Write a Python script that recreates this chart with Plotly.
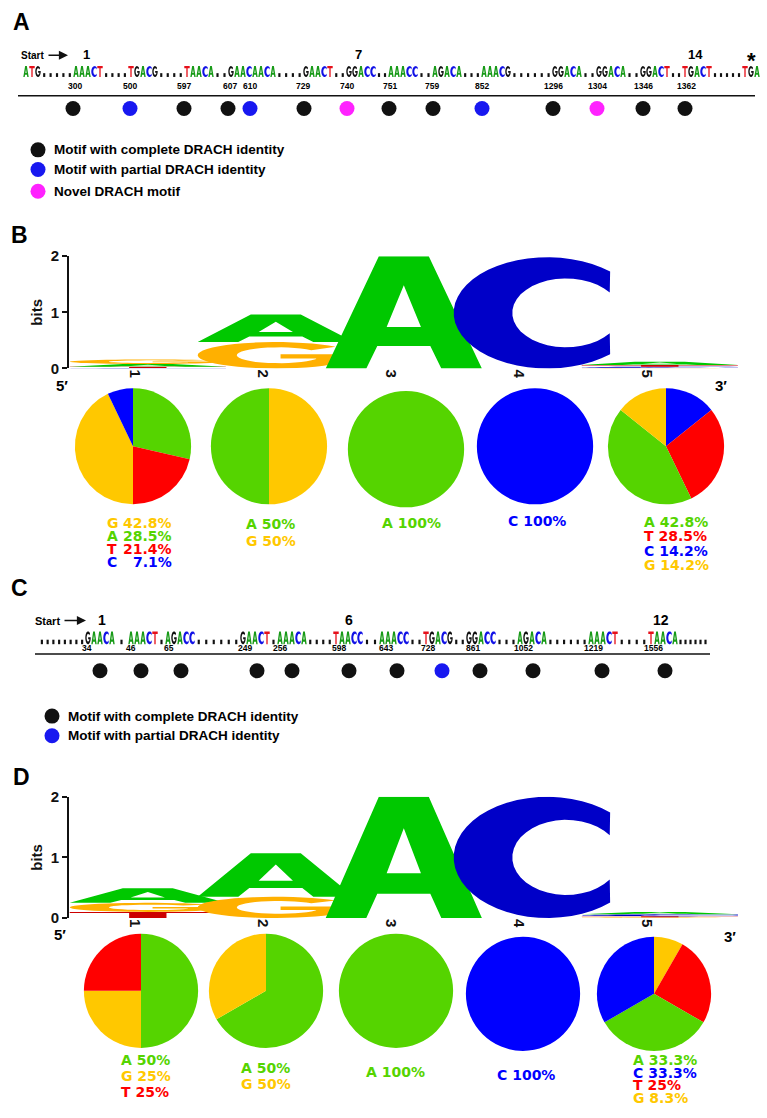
import numpy as np
import plotly.graph_objects as go

W, H = 767, 1118
FONT = "Liberation Sans, Arial, Helvetica, sans-serif"
LABEL_FONT = "DejaVu Sans, Verdana, sans-serif"

# ======================= DATA =======================
# Panel A - DRACH motifs along the transcript (start codon .. stop codon)
motifs_a = ["ATG", "AAACT", "TGACG", "TAACA", "GAACAACA", "GAACT", "GGACC", "AAACC",
            "AGACA", "AAACG", "GGACA", "GGACA", "GGACT", "TGACT", "TGA"]
dots_between_a = [5, 4, 4, 2, 4, 2, 2, 2, 3, 6, 2, 2, 2, 5]
sites_a = ["300", "500", "597", "607", "610", "729", "740", "751", "759", "852",
           "1296", "1304", "1346", "1362"]
class_a = ["complete", "partial", "complete", "complete", "partial", "complete", "novel",
           "complete", "complete", "partial", "complete", "novel", "complete", "complete"]
milestones_a = ["1", "7", "14"]

# Panel C
motifs_c = ["GAACA", "AAACT", "AGACC", "GAACT", "AAACA", "TAACC", "AAACC", "TGACG",
            "GGACC", "AGACA", "AAACT", "TAACA"]
dots_lead_c, dots_trail_c = 8, 6
dots_between_c = [1, 1, 6, 1, 4, 2, 2, 2, 3, 6, 4]
sites_c = ["34", "46", "65", "249", "256", "598", "643", "728", "861", "1052", "1219", "1556"]
class_c = ["complete"] * 7 + ["partial"] + ["complete"] * 4
milestones_c = ["1", "6", "12"]

class_text = {"complete": "Motif with complete DRACH identity",
              "partial": "Motif with partial DRACH identity",
              "novel": "Novel DRACH motif"}
legend_a = ["complete", "partial", "novel"]
legend_c = ["complete", "partial"]

# Sequence logos (bits per letter, stacked bottom -> top)
logo_positions = [1, 2, 3, 4, 5]
logo_b_letters = [["C", "T", "A", "G"], ["G", "A"], ["A"], ["C"], ["G", "C", "T", "A"]]
logo_b_bits = [[0.01, 0.02, 0.05, 0.08], [0.47, 0.49], [2.0], [1.98], [0.01, 0.02, 0.03, 0.06]]
logo_d_letters = [["T", "G", "A"], ["G", "A"], ["A"], ["C"], ["G", "T", "C", "A"]]
logo_d_bits = [[0.10, 0.15, 0.24], [0.35, 0.72], [2.0], [2.0], [0.01, 0.02, 0.03, 0.04]]

# Pie charts (slices clockwise from 12 o'clock)
pie_b_letters = [["A", "T", "G", "C"], ["G", "A"], ["A"], ["C"], ["C", "T", "A", "G"]]
pie_b_values = [[28.5, 21.4, 42.8, 7.1], [50, 50], [100], [100], [14.2, 28.5, 42.8, 14.2]]
label_b_letters = [["G", "A", "T", "C"], ["A", "G"], ["A"], ["C"], ["A", "T", "C", "G"]]
label_b_pct = [["42.8%", "28.5%", "21.4%", "7.1%"], ["50%", "50%"], ["100%"], ["100%"],
               ["42.8%", "28.5%", "14.2%", "14.2%"]]

pie_d_letters = [["A", "G", "T"], ["A", "G"], ["A"], ["C"], ["G", "T", "A", "C"]]
pie_d_values = [[50, 25, 25], [66.7, 33.3], [100], [100], [8.3, 25, 33.3, 33.3]]
label_d_letters = [["A", "G", "T"], ["A", "G"], ["A"], ["C"], ["A", "C", "T", "G"]]
label_d_pct = [["50%", "25%", "25%"], ["50%", "50%"], ["100%"], ["100%"],
               ["33.3%", "33.3%", "25%", "8.3%"]]

# ======================= STYLE / LAYOUT POSITIONS (pixels) =======================
seq_col = {"A": "#179A17", "C": "#1212E6", "G": "#111111", "T": "#E6101A", ".": "#111111"}
logo_col = {"A": "#00C800", "C": "#0000C8", "G": "#FFB000", "T": "#CC0000"}
pie_col = {"A": "#55D400", "C": "#0000FF", "G": "#FFC800", "T": "#FF0000"}
dot_col = {"complete": "#111111", "partial": "#1818F0", "novel": "#FF22FF"}

seg_x_a = [23, 73, 128, 184, 228, 303, 346, 388, 432, 481, 552, 596, 640, 682, 742]
site_x_a = [75, 130, 184, 230, 250, 303, 347, 390, 432, 482, 553, 597, 643, 686]
dot_x_a = [73, 130, 184, 228, 250, 304, 347, 389, 433, 482, 553, 597, 643, 685]
mile_x_a = [86, 358, 695]

seg_x_c = [85, 128, 165, 240, 277, 333, 379, 423, 466, 517, 588, 648]
lead_x_c, trail_x_c = 39, 708
site_x_c = [87, 131, 169, 245, 280, 339, 386, 428, 473, 523, 593, 653]
dot_x_c = [100, 141, 181, 257, 292, 349, 397, 442, 480, 533, 602, 665]
mile_x_c = [102, 349, 661]

LOGO_X0, LOGO_PX_PER_POS, LOGO_AXIS_PX = 135, 128, 69
LETTER_W, LETTER_OFF = 1.22, 0.1

pie_b_cx = [133, 269, 406, 535, 666]
pie_b_cy = [444, 444, 447, 444, 444]
pie_d_cx = [141, 266, 396, 523, 654]
pie_d_cy = [997, 997, 997, 1000, 1000]
PIE_R_B, PIE_R_D = 59, 58

lab_b_x = [105, 244, 380, 506, 642]
lab_b_y = [[522, 535, 548, 562], [523, 540], [522], [520], [521, 535, 550, 565]]
lab_d_x = [119, 239, 364, 495, 631]
lab_d_y = [[1067, 1083, 1100], [1075, 1092], [1079], [1082], [1067, 1080, 1093, 1106]]

# ======================= GLYPHS =======================
def arc(cx, cy, rx, ry, a0, a1, n):
    t = np.radians(np.linspace(a0, a1, n))
    return list(zip(cx + rx * np.cos(t), cy + ry * np.sin(t)))

GLYPHS = {
    "A": [[(0, 0), (0.34, 1), (0.66, 1), (1, 0), (0.74, 0), (0.67, 0.2), (0.33, 0.2), (0.26, 0)],
          [(0.39, 0.37), (0.61, 0.37), (0.5, 0.74)]],
    "C": [arc(0.6, 0.5, 0.6, 0.5, 48, 312, 40) + arc(0.72, 0.5, 0.345, 0.31, 324, 36, 32)],
    "G": [arc(0.5, 0.5, 0.5, 0.5, 40, 360, 44)
          + [(1, 0.54), (0.53, 0.54), (0.53, 0.38), (0.76, 0.38)]
          + arc(0.52, 0.5, 0.27, 0.3, 330, 40, 32)],
    "T": [[(0, 1), (1, 1), (1, 0.8), (0.62, 0.8), (0.62, 0), (0.38, 0), (0.38, 0.8), (0, 0.8)]],
    ".": [[(0.3, 0), (0.7, 0), (0.7, 0.35), (0.3, 0.35)]],
}

def glyph_path(ch, x0, w, yb, h, flip):
    parts = []
    for ring in GLYPHS[ch]:
        pts = []
        for u, v in ring:
            y = yb - v * h if flip else yb + v * h
            pts.append(f"{x0 + u * w:.3f},{y:.3f}")
        parts.append("M" + "L".join(pts) + "Z")
    return "".join(parts)

shapes = []
annotations = []

def glyph_shape(ch, x0, w, yb, h, color, xref, yref, flip):
    shapes.append(dict(type="path", path=glyph_path(ch, x0, w, yb, h, flip), xref=xref, yref=yref,
                       fillcolor=color, line=dict(width=0), fillrule="evenodd", layer="above"))

def text(x, y, s, size, color="#000", xanchor="center", yanchor="middle", weight="bold",
         family=FONT):
    annotations.append(dict(x=x, y=y, xref="x", yref="y", text=s, showarrow=False,
                            xanchor=xanchor, yanchor=yanchor,
                            font=dict(family=family, size=size, color=color, weight=weight)))

# ======================= SEQUENCE TRACKS =======================
def draw_track(motifs, seg_x, between, baseline, h, pitch=6.0, lead=None, trail=None):
    gw = pitch * 0.9
    def put(ch, xc):
        glyph_shape(ch, xc - gw / 2, gw, baseline, h, seq_col[ch], "x", "y", True)
    def dots(x_start, x_end, n):
        step = (x_end - x_start) / n
        for j in range(n):
            put(".", x_start + (j + 0.5) * step)
    if lead:
        dots(lead[0], seg_x[0], lead[1])
    for i, m in enumerate(motifs):
        for k, ch in enumerate(m):
            put(ch, seg_x[i] + (k + 0.5) * pitch)
        if i < len(motifs) - 1:
            dots(seg_x[i] + len(m) * pitch, seg_x[i + 1], between[i])
    if trail:
        dots(seg_x[-1] + len(motifs[-1]) * pitch, trail[0], trail[1])

draw_track(motifs_a, seg_x_a, dots_between_a, 69, 11)
draw_track(motifs_c, seg_x_c, dots_between_c, 645, 13,
           lead=(lead_x_c, dots_lead_c), trail=(trail_x_c, dots_trail_c))

for s, x in zip(sites_a, site_x_a):
    text(x, 78, s, 8.5)
for s, x in zip(sites_c, site_x_c):
    text(x, 649, s, 8.5)
for s, x in zip(milestones_a, mile_x_a):
    text(x, 46, s, 13)
for s, x in zip(milestones_c, mile_x_c):
    text(x, 620, s, 14)

text(32, 47, "Start", 10)
text(47, 621, "Start", 11)
text(751, 52, "*", 22)
for (x0, x1, y) in [(47, 68, 47), (63, 86, 621)]:
    annotations.append(dict(x=x1, y=y, ax=x0, ay=y, xref="x", yref="y", axref="x", ayref="y",
                            text="", showarrow=True, arrowhead=2, arrowsize=1.3,
                            arrowwidth=1.4, arrowcolor="#111"))

shapes.append(dict(type="line", x0=18, x1=755, y0=88, y1=88, xref="x", yref="y",
                   line=dict(color="#111", width=1.5)))
shapes.append(dict(type="line", x0=35, x1=710, y0=655, y1=655, xref="x", yref="y",
                   line=dict(color="#111", width=1.5)))

# panel letters
for s, x, y in [("A", 21, 13), ("B", 19, 229), ("C", 19, 588), ("D", 21, 780)]:
    text(x, y, s, 23)

# legends (manual)
leg_a_y = [143, 163, 185]
leg_c_y = [718, 738]
for cls, y in zip(legend_a, leg_a_y):
    text(52, y, class_text[cls], 13.5, xanchor="left")
for cls, y in zip(legend_c, leg_c_y):
    text(66, y, class_text[cls], 13.5, xanchor="left")

fig = go.Figure()

# motif dots
for cls in ["complete", "partial", "novel"]:
    xs = [x for x, c in zip(dot_x_a, class_a) if c == cls] + [x for x, c in zip(dot_x_c, class_c) if c == cls]
    ys = [101] * sum(c == cls for c in class_a) + [672] * sum(c == cls for c in class_c)
    fig.add_trace(go.Scatter(x=xs, y=ys, mode="markers", xaxis="x", yaxis="y",
                             marker=dict(size=15, color=dot_col[cls], line=dict(width=0)),
                             name=class_text[cls], showlegend=False, hoverinfo="name"))
lx = [38] * len(legend_a) + [52] * len(legend_c)
ly = leg_a_y + leg_c_y
lc = [dot_col[c] for c in legend_a + legend_c]
fig.add_trace(go.Scatter(x=lx, y=ly, mode="markers", xaxis="x", yaxis="y",
                         marker=dict(size=15, color=lc, line=dict(width=0)),
                         showlegend=False, hoverinfo="skip"))

# ======================= LOGOS =======================
def draw_logo(letters, bits, xref, yref):
    for pos, ls, bs in zip(logo_positions, letters, bits):
        y0 = 0.0
        for ch, b in zip(ls, bs):
            glyph_shape(ch, pos + LETTER_OFF - LETTER_W / 2, LETTER_W, y0, b, logo_col[ch],
                        xref, yref, False)
            y0 += b
    tot = [sum(b) for b in bits]
    fig.add_trace(go.Scatter(x=logo_positions, y=tot, mode="markers", xaxis=xref, yaxis=yref,
                             marker=dict(opacity=0), showlegend=False, hoverinfo="y"))

draw_logo(logo_b_letters, logo_b_bits, "x2", "y2")
draw_logo(logo_d_letters, logo_d_bits, "x3", "y3")

x_lo = 1 - (LOGO_X0 - LOGO_AXIS_PX) / LOGO_PX_PER_POS
x_hi = 1 + (W - LOGO_X0) / LOGO_PX_PER_POS

def logo_axes(y_bottom_px, y_top_px, anchor_x, anchor_y):
    xa = dict(domain=[LOGO_AXIS_PX / W, 1], range=[x_lo, x_hi], anchor=anchor_y,
              tickvals=logo_positions, ticktext=[str(p) for p in logo_positions],
              tickangle=90, ticks="", showline=False, showgrid=False, zeroline=False,
              tickfont=dict(family=FONT, size=15, color="#111", weight="bold"), fixedrange=True)
    ya = dict(domain=[1 - y_bottom_px / H, 1 - y_top_px / H], range=[0, 2], anchor=anchor_x,
              tickvals=[0, 1, 2], ticks="outside", ticklen=5, tickwidth=2, tickcolor="#111",
              showline=True, linecolor="#111", linewidth=2, showgrid=False, zeroline=False,
              tickfont=dict(family=FONT, size=15, color="#111", weight="bold"),
              title=dict(text="bits", font=dict(family=FONT, size=15, color="#111", weight="bold"),
                         standoff=4), fixedrange=True)
    return xa, ya

xa2, ya2 = logo_axes(365, 251, "x2", "y2")
xa3, ya3 = logo_axes(923, 800, "x3", "y3")

text(62, 382, "5′", 15)
text(721, 382, "3′", 15)
text(60, 940, "5′", 15)
text(730, 942, "3′", 15)

# ======================= PIES =======================
def draw_pies(letters, values, cxs, cys, r):
    for ls, vs, cx, cy in zip(letters, values, cxs, cys):
        fig.add_trace(go.Pie(labels=ls, values=vs, sort=False, direction="clockwise", rotation=0,
                             marker=dict(colors=[pie_col[c] for c in ls], line=dict(width=0)),
                             textinfo="none", hoverinfo="label+value", showlegend=False,
                             domain=dict(x=[(cx - r) / W, (cx + r) / W],
                                         y=[1 - (cy + r) / H, 1 - (cy - r) / H])))

draw_pies(pie_b_letters, pie_b_values, pie_b_cx, pie_b_cy, PIE_R_B)
draw_pies(pie_d_letters, pie_d_values, pie_d_cx, pie_d_cy, PIE_R_D)

LSIZE = 14
def pie_labels(letters, pcts, xs, ys, split=None):
    for i, (ls, ps, x, yl) in enumerate(zip(letters, pcts, xs, ys)):
        for ch, p, y in zip(ls, ps, yl):
            if split and i in split:
                text(x, y, ch, LSIZE, color=pie_col[ch], xanchor="left", family=LABEL_FONT)
                text(split[i], y, p, LSIZE, color=pie_col[ch], xanchor="right", family=LABEL_FONT)
            else:
                text(x, y, f"{ch} {p}", LSIZE, color=pie_col[ch], xanchor="left",
                     family=LABEL_FONT)

pie_labels(label_b_letters, label_b_pct, lab_b_x, lab_b_y, split={0: 174})
pie_labels(label_d_letters, label_d_pct, lab_d_x, lab_d_y)

# ======================= LAYOUT =======================
fig.update_layout(
    width=W, height=H, margin=dict(l=0, r=0, t=0, b=0),
    paper_bgcolor="white", plot_bgcolor="rgba(0,0,0,0)",
    showlegend=False,
    xaxis=dict(domain=[0, 1], range=[0, W], visible=False, fixedrange=True),
    yaxis=dict(domain=[0, 1], range=[H, 0], visible=False, fixedrange=True),
    xaxis2=xa2, yaxis2=ya2, xaxis3=xa3, yaxis3=ya3,
    shapes=shapes, annotations=annotations,
    font=dict(family=FONT),
)

fig.write_html("out.html", config={"displayModeBar": False},
               post_script="document.body.style.margin='0px';")
